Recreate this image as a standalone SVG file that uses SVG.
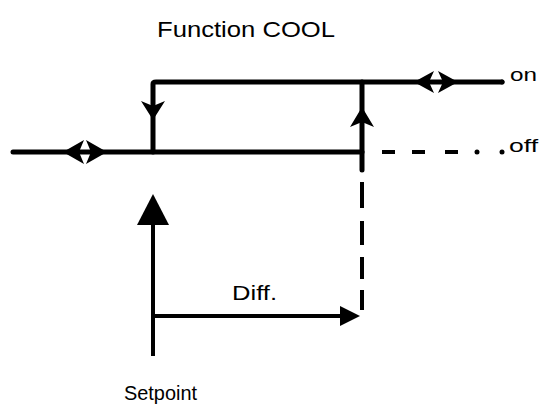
<svg xmlns="http://www.w3.org/2000/svg" width="541" height="412" viewBox="0 0 541 412">
<style>
.t{font-family:"Liberation Sans",Arial,sans-serif;fill:#000}
.thick{stroke:#000;stroke-width:5;fill:none;stroke-linecap:round}
.thin{stroke:#000;stroke-width:4;fill:none}
.dash{stroke:#000;stroke-width:4;fill:none}
.head{fill:#000;stroke:none}
</style>
<rect width="541" height="412" fill="#fff"/>
<g id="title"><text class="t" x="157" y="37" font-size="22" textLength="178" lengthAdjust="spacingAndGlyphs">Function COOL</text></g>
<g id="label-on"><text class="t" x="510" y="81" font-size="19" textLength="27" lengthAdjust="spacingAndGlyphs">on</text></g>
<g id="label-off"><text class="t" x="509" y="152" font-size="19" textLength="29" lengthAdjust="spacingAndGlyphs">off</text></g>
<g id="label-diff"><text class="t" x="232" y="300" font-size="20" textLength="45" lengthAdjust="spacingAndGlyphs">Diff.</text></g>
<g id="label-setpoint"><text class="t" x="124" y="400" font-size="20" textLength="73" lengthAdjust="spacingAndGlyphs">Setpoint</text></g>
<g id="connectors">
<path class="thick" d="M13,152 H362"/>
<path class="thick" d="M153,152 V84 Q153,82 156,82 H502" stroke-linecap="butt"/>
<circle cx="502" cy="82" r="2.5" fill="#000"/>
<path class="thick" d="M362,82 V170" stroke-linecap="butt"/>
<path class="dash" d="M362,182 V208 M362,221 V245 M362,257 V279 M362,290 V310"/>
<path class="dash" d="M382,152 H395 M412,152 H425 M445,152 H458"/>
<circle cx="477" cy="152" r="2.5" fill="#000"/>
<circle cx="502" cy="152" r="2.5" fill="#000"/>
<path class="head" d="M63,152 L84,140 L79,152 L84,164 Z"/>
<path class="head" d="M107,152 L86,140 L91,152 L86,164 Z"/>
<path class="head" d="M414,82 L434,71 L429,82 L434,93 Z"/>
<path class="head" d="M458,82 L438,71 L443,82 L438,93 Z"/>
<path class="head" d="M153,120 L141,101 L153,106 L165,101 Z"/>
<path class="head" d="M362,107 L350,127 L362,122 L374,127 Z"/>
<path class="thin" d="M153,222 V356"/>
<path class="head" d="M153,194 L137,225 L169,225 Z"/>
<path class="thin" d="M153,316 H342"/>
<path class="head" d="M360,316 L340,306 L340,326 Z"/>
</g>
</svg>
